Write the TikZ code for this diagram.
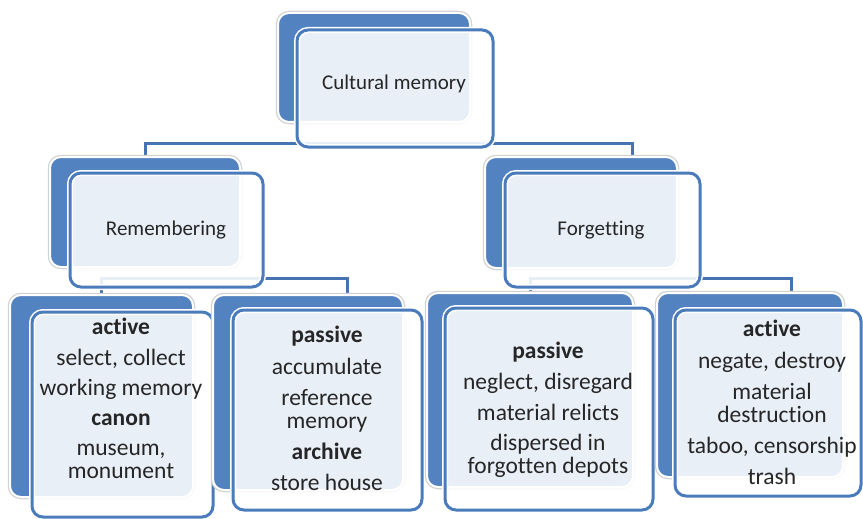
\documentclass[tikz,border=0pt]{standalone}
\usepackage{fontspec}
\setmainfont{Carlito}[Ligatures={NoCommon}]
\pgfdeclarelayer{background}
\pgfsetlayers{background,main}
\definecolor{bfill}{HTML}{5282C0}
\definecolor{bline}{HTML}{4A7CBB}
\definecolor{cline}{HTML}{4674B2}
\definecolor{txt}{HTML}{262626}
\tikzset{
  backbox/.style={rectangle, rounded corners=11pt, fill=bfill, draw=white, line width=2pt,
    preaction={draw=black!18, line width=4.5pt}, inner sep=0pt, outer sep=0pt, anchor=north west},
  frontbox/.style={rectangle, rounded corners=11pt, fill=white, fill opacity=0.88, draw=bline, line width=3pt,
    preaction={draw=white, line width=6pt}, inner sep=0pt, outer sep=0pt, anchor=north west},
  conn/.style={draw=cline, line width=3pt},
  lbl/.style={font=\fontsize{21}{25}\selectfont, text=txt, anchor=base, inner sep=0pt},
  body/.style={font=\fontsize{23.5}{23}\selectfont, text=txt, align=center, anchor=north, inner sep=0pt},
}
\begin{document}
\begin{tikzpicture}[x=1pt,y=-1pt]
\useasboundingbox (0,0) rectangle (863,519);
% level 0
\node[backbox, minimum width=192pt, minimum height=109pt] (topB) at (278,13) {};
\node[frontbox, minimum width=196pt, minimum height=117pt] (topF) at (297,30) {};
\node[lbl] (topT) at (394,90) {Cultural memory};
% level 1
\node[backbox, minimum width=190pt, minimum height=110pt] (remB) at (50,157) {};
\node[frontbox, minimum width=193pt, minimum height=114pt] (remF) at (70,173) {};
\node[lbl] (remT) at (166,235) {Remembering};
\node[backbox, minimum width=192pt, minimum height=111pt] (forB) at (485,157) {};
\node[frontbox, minimum width=195pt, minimum height=114pt] (forF) at (505,173) {};
\node[lbl] (forT) at (601,235) {Forgetting};
% level 2
\node[backbox, minimum width=183pt, minimum height=202pt] (c1B) at (10,295) {};
\node[frontbox, minimum width=181pt, minimum height=205pt] (c1F) at (32,312) {};
\node[body] (c1T) at (121,317.4) {\strut\textbf{active}\\[7pt] select, collect\\[7pt] working memory\\[7pt] \textbf{canon}\\[7pt] museum,\\ monument};
\node[backbox, minimum width=190pt, minimum height=195pt] (c2B) at (213,295) {};
\node[frontbox, minimum width=189pt, minimum height=200pt] (c2F) at (233,310) {};
\node[body] (c2T) at (327,325.4) {\strut\textbf{passive}\\[8pt] accumulate\\[8pt] reference\\ memory\\[8pt] \textbf{archive}\\[8pt] store house};
\node[backbox, minimum width=206pt, minimum height=194pt] (c3B) at (427,293) {};
\node[frontbox, minimum width=208pt, minimum height=202pt] (c3F) at (445,308) {};
\node[body] (c3T) at (548,341.4) {\strut\textbf{passive}\\[7.5pt] neglect, disregard\\[7.5pt] material relicts\\[7.5pt] dispersed in\\ forgotten depots};
\node[backbox, minimum width=186pt, minimum height=184pt] (c4B) at (657,293) {};
\node[frontbox, minimum width=186pt, minimum height=186pt] (c4F) at (675,310) {};
\node[body] (c4T) at (772,319.4) {\strut\textbf{active}\\[8pt] negate, destroy\\[8pt] material\\ destruction\\[8pt] taboo, censorship\\[8pt] trash};
% connectors
\begin{pgfonlayer}{background}
\draw[conn] (remB.north) -- ++(0,-14) -| ([xshift=51pt]forB.north);
\draw[conn] (c1B.north) -- ++(0,-17) -| ([xshift=39pt]c2B.north);
\draw[conn] (c3B.north) -- ++(0,-15) -| ([xshift=41pt]c4B.north);
\end{pgfonlayer}
\end{tikzpicture}
\end{document}
